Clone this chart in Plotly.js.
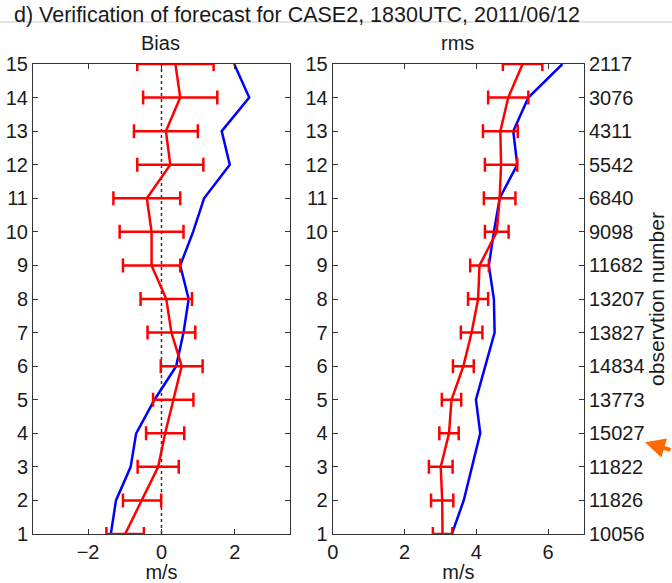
<!DOCTYPE html>
<html>
<head>
<meta charset="utf-8">
<script src="https://cdn.plot.ly/plotly-3.0.1.min.js"></script>
<style>html,body{margin:0;padding:0;background:#fff;}#chart{width:672px;height:583px;}</style>
</head>
<body>
<div id="chart"></div>
<script>
// Vertical levels
const levels = [1,2,3,4,5,6,7,8,9,10,11,12,13,14,15];
// Observation numbers per level (right axis labels)
const obsNumbers = ["10056","11826","11822","15027","13773","14834","13827","13207","11682","9098","6840","5542","4311","3076","2117"];
// Bias panel
const biasBlue = [-1.38,-1.24,-0.84,-0.69,-0.19,0.40,0.60,0.74,0.51,0.86,1.16,1.86,1.64,2.39,1.98];
const biasRed  = [-0.99,-0.53,-0.09,0.10,0.32,0.55,0.27,0.13,-0.27,-0.27,-0.40,0.24,0.12,0.51,0.38];
const biasErr  = [0.51,0.52,0.56,0.52,0.55,0.57,0.65,0.70,0.78,0.87,0.91,0.90,0.87,1.01,1.04];
// RMS panel
const rmsBlue = [3.32,3.65,3.88,4.11,3.99,4.25,4.51,4.49,4.35,4.49,4.65,5.14,5.03,5.45,6.40];
const rmsRed  = [3.06,3.05,3.01,3.24,3.31,3.64,3.87,4.05,4.09,4.57,4.65,4.69,4.67,4.89,5.29];
const rmsErr  = [0.27,0.31,0.33,0.27,0.27,0.29,0.30,0.28,0.26,0.33,0.44,0.45,0.485,0.56,0.55];
const zeroLineX = [0,0];
const zeroLineY = [1,15];

const FONT = 'Liberation Sans, Arial, Helvetica, sans-serif';
const BLUE = '#0000ff', RED = '#ff0000', AX = '#333333', TXT = '#1a1a1a';

const traces = [
  {x: zeroLineX, y: zeroLineY, xaxis:'x', yaxis:'y', mode:'lines', line:{color:'#333', width:1.5, dash:'dot'}, hoverinfo:'skip'},
  {x: biasBlue, y: levels, xaxis:'x', yaxis:'y', mode:'lines', line:{color:BLUE, width:2.5}},
  {x: biasRed, y: levels, xaxis:'x', yaxis:'y', mode:'lines', line:{color:RED, width:2.5},
   error_x:{type:'data', array: biasErr, visible:true, color:RED, thickness:2.5, width:7}},
  {x: rmsBlue, y: levels, xaxis:'x2', yaxis:'y2', mode:'lines', line:{color:BLUE, width:2.5}},
  {x: rmsRed, y: levels, xaxis:'x2', yaxis:'y2', mode:'lines', line:{color:RED, width:2.5},
   error_x:{type:'data', array: rmsErr, visible:true, color:RED, thickness:2.5, width:7}},
  {x: rmsRed, y: levels, xaxis:'x2', yaxis:'y3', mode:'lines', line:{color:'rgba(0,0,0,0)', width:0}, hoverinfo:'skip'}
];

const axCommon = {
  showgrid:false, zeroline:false, showline:true, linecolor:AX, linewidth:1,
  ticks:'inside', ticklen:5, tickcolor:AX, mirror:'ticks',
  tickfont:{family:FONT, size:20, color:TXT}
};

const layout = {
  width:672, height:583,
  margin:{l:33, r:88, t:64, b:49},
  paper_bgcolor:'#fff', plot_bgcolor:'#fff',
  showlegend:false,
  font:{family:FONT, color:TXT},
  xaxis: Object.assign({}, axCommon, {domain:[0,0.4664], range:[-3.5,3.5], tickvals:[-2,0,2], anchor:'y',
    title:{text:'m/s', font:{family:FONT, size:20, color:TXT}, standoff:2}}),
  yaxis: Object.assign({}, axCommon, {domain:[0,1], range:[1,15], dtick:1, tick0:1, anchor:'x'}),
  xaxis2: Object.assign({}, axCommon, {domain:[0.5439,1], range:[0,7], tickvals:[0,2,4,6], anchor:'y2',
    title:{text:'m/s', font:{family:FONT, size:20, color:TXT}, standoff:2}}),
  yaxis2: Object.assign({}, axCommon, {domain:[0,1], range:[1,15], dtick:1, tick0:1, anchor:'x2'}),
  yaxis3: Object.assign({}, axCommon, {overlaying:'y2', side:'right', anchor:'x2', range:[1,15],
    tickvals: levels, ticktext: obsNumbers, mirror:false,
    title:{text:'observtion number', font:{family:FONT, size:21, color:TXT}, standoff:2}}),
  shapes:[
    {type:'line', xref:'paper', yref:'paper', x0:-0.06, x1:1.16, y0:1.0894, y1:1.0894, line:{color:'#c8c8c8', width:1}, layer:'below'}
  ],
  annotations:[
    {text:'d) Verification of forecast for CASE2, 1830UTC, 2011/06/12', xref:'paper', yref:'paper', x:-0.0381, y:1.1043,
     xanchor:'left', yanchor:'middle', showarrow:false, font:{family:FONT, size:21.5, color:TXT}},
    {text:'Bias', xref:'paper', yref:'paper', x:0.2323, y:1.0447, xanchor:'center', yanchor:'middle', showarrow:false,
     font:{family:FONT, size:20, color:TXT}},
    {text:'rms', xref:'paper', yref:'paper', x:0.7713, y:1.0447, xanchor:'center', yanchor:'middle', showarrow:false,
     font:{family:FONT, size:20, color:TXT}},
    {text:'', xref:'paper', yref:'paper', x:1.1107, y:0.195, ax:45, ay:8, showarrow:true, arrowhead:2, arrowsize:1.0,
     arrowwidth:4, arrowcolor:'#ff6a00'}
  ]
};

Plotly.newPlot('chart', traces, layout, {staticPlot:true, displayModeBar:false});
</script>
</body>
</html>
